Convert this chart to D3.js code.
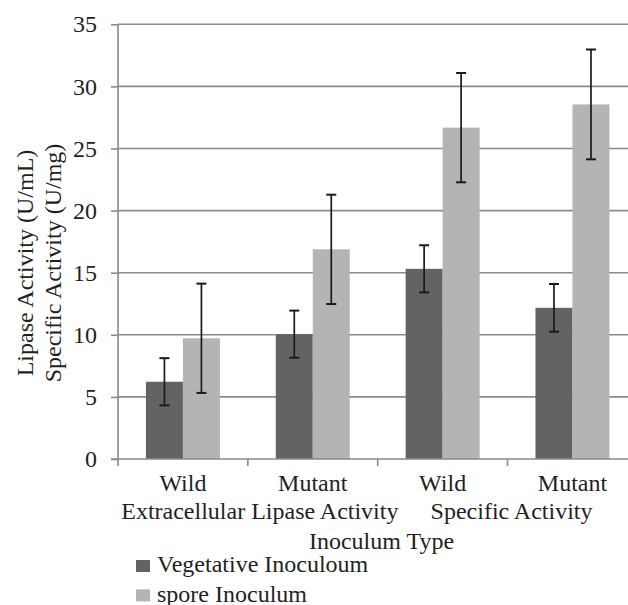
<!DOCTYPE html>
<html>
<head>
<meta charset="utf-8">
<script src="https://cdn.jsdelivr.net/npm/d3@7"></script>
<style>
  html, body { margin: 0; padding: 0; background: #fff; }
  svg { display: block; font-family: "Liberation Serif", "Times New Roman", serif; }
</style>
</head>
<body>
<div id="chart"></div>
<script>
const categories = ['Wild', 'Mutant', 'Wild', 'Mutant'];
const groupLabels = ['Extracellular Lipase Activity', 'Specific Activity'];
const seriesNames = ['Vegetative Inoculoum', 'spore Inoculum'];
const vegetative = [6.22, 10.05, 15.31, 12.17];
const vegetativeErr = [1.9, 1.9, 1.9, 1.92];
const spore = [9.72, 16.88, 26.68, 28.55];
const sporeErr = [4.4, 4.4, 4.4, 4.42];
const yTicks = [0, 5, 10, 15, 20, 25, 30, 35];

const width = 628, height = 605;
const plotLeft = 118, plotRight = 637.4, plotTop = 24.3, plotBottom = 459;
const colors = ['#636363', '#b4b4b4'];
const grid = '#8a8a8a';
const textColor = '#1f1f1f';

const svg = d3.select('#chart').append('svg')
    .attr('width', width).attr('height', height);

const y = d3.scaleLinear().domain([0, 35]).range([plotBottom, plotTop]);
const x0 = d3.scaleBand().domain(d3.range(categories.length)).range([plotLeft, plotRight]);
const x1 = d3.scaleBand().domain([0, 1]).range([0, x0.bandwidth()]).paddingOuter(0.755);

// gridlines
svg.append('g').selectAll('line').data(yTicks.filter(d => d > 0)).join('line')
    .attr('x1', plotLeft).attr('x2', width)
    .attr('y1', d => y(d)).attr('y2', d => y(d))
    .attr('stroke', grid).attr('stroke-width', 1.6);

// bars
const data = categories.map((c, i) => [
    { s: 0, v: vegetative[i], e: vegetativeErr[i] },
    { s: 1, v: spore[i], e: sporeErr[i] }
]);
const groups = svg.append('g').selectAll('g').data(data).join('g')
    .attr('transform', (d, i) => `translate(${x0(i)},0)`);

groups.selectAll('rect').data(d => d).join('rect')
    .attr('x', d => x1(d.s)).attr('width', x1.bandwidth())
    .attr('y', d => y(d.v)).attr('height', d => y(0) - y(d.v))
    .attr('fill', d => colors[d.s]);

// error bars
const eb = groups.selectAll('g.err').data(d => d).join('g').attr('class', 'err')
    .attr('stroke', '#1a1a1a').attr('stroke-width', 1.7);
const cx = d => x1(d.s) + x1.bandwidth() / 2;
eb.append('line')
    .attr('x1', cx).attr('x2', cx)
    .attr('y1', d => y(d.v + d.e)).attr('y2', d => y(d.v - d.e));
[1, -1].forEach(sign => {
    eb.append('line')
        .attr('x1', d => cx(d) - 5).attr('x2', d => cx(d) + 5)
        .attr('y1', d => y(d.v + sign * d.e)).attr('y2', d => y(d.v + sign * d.e))
        .attr('stroke-width', 2);
});

// y axis
const yAxis = svg.append('g').attr('transform', `translate(${plotLeft},0)`)
    .call(d3.axisLeft(y).tickValues(yTicks).tickSize(7).tickPadding(14))
    .attr('font-family', '"Liberation Serif", serif');
yAxis.select('.domain').attr('stroke', grid).attr('stroke-width', 1.6).attr('d', `M0,${plotTop}V${plotBottom}`);
yAxis.selectAll('.tick line').attr('stroke', grid).attr('stroke-width', 1.6);
yAxis.selectAll('.tick text').attr('font-size', 24).attr('fill', textColor);

// x axis
const bounds = d3.range(categories.length + 1).map(i => plotLeft + i * x0.step());
svg.append('line').attr('x1', plotLeft - 7).attr('x2', width).attr('y1', plotBottom).attr('y2', plotBottom)
    .attr('stroke', grid).attr('stroke-width', 1.6);
svg.append('g').selectAll('line').data(bounds).join('line')
    .attr('x1', d => d).attr('x2', d => d).attr('y1', plotBottom).attr('y2', plotBottom + 7)
    .attr('stroke', grid).attr('stroke-width', 1.6);

svg.append('g').selectAll('text').data(categories).join('text')
    .attr('x', (d, i) => x0(i) + x0.bandwidth() / 2).attr('y', 491)
    .attr('text-anchor', 'middle').attr('font-size', 24).attr('fill', textColor).text(d => d);

svg.append('g').selectAll('text').data(groupLabels).join('text')
    .attr('x', (d, i) => x0(i * 2) + x0.step() + [12, 4][i]).attr('y', 518.5)
    .attr('text-anchor', 'middle').attr('font-size', 24).attr('fill', textColor).text(d => d);

svg.append('text').attr('x', 381.5).attr('y', 549)
    .attr('text-anchor', 'middle').attr('font-size', 24).attr('fill', textColor).text('Inoculum Type');

// y title
const yt = svg.append('text').attr('transform', 'translate(33,263) rotate(-90)')
    .attr('text-anchor', 'middle').attr('font-size', 24).attr('fill', textColor);
yt.append('tspan').attr('x', 0).attr('y', 0).text('Lipase Activity (U/mL)');
yt.append('tspan').attr('x', 0).attr('y', 27.7).text('Specific Activity (U/mg)');

// legend
const legend = svg.append('g').selectAll('g').data(seriesNames).join('g')
    .attr('transform', (d, i) => `translate(136,${560 + i * 29.4})`);
legend.append('rect').attr('width', 14).attr('height', 12).attr('fill', (d, i) => colors[i]);
legend.append('text').attr('x', 21).attr('y', 12.3).attr('font-size', 24).attr('fill', textColor).text(d => d);
</script>
</body>
</html>
